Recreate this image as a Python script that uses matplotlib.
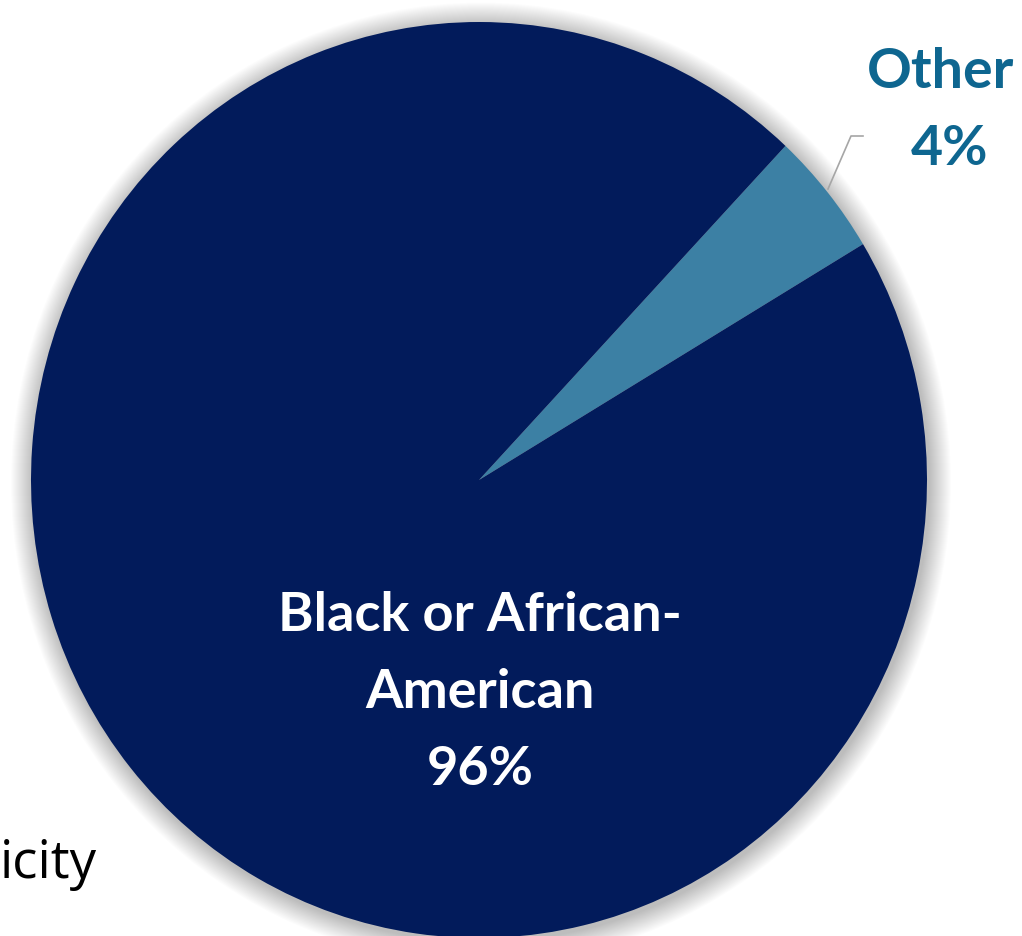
import matplotlib
matplotlib.use("Agg")
import matplotlib.pyplot as plt
from matplotlib.patches import Ellipse

# Data
categories = ["Other", "Black or African-\nAmerican"]
values = [4.4, 95.6]
shown_pct = ["4%", "96%"]
colors = ["#3C80A4", "#021B5B"]

W, H = 1022, 937
fig = plt.figure(figsize=(W / 100, H / 100), dpi=100)
ax = fig.add_axes([0, 0, 1, 1])

# slight vertical stretch like the reference (rx 448 px, ry 458 px)
sy = 448 / 458
ax.set_xlim(0, W)
ax.set_ylim(0, H * sy)
ax.axis("off")

cx, cy, r = 479, (H - 481) * sy, 448

# soft shadow
for i in range(22, 0, -1):
    ax.add_patch(Ellipse((cx + 2, cy - 3), 2 * (r + i), 2 * (r + i),
                         color="#000000", alpha=0.012, lw=0, zorder=0))

ax.pie(values, colors=colors, startangle=31.0, counterclock=True,
       center=(cx, cy), radius=r, frame=True,
       wedgeprops=dict(linewidth=0, zorder=1))
ax.set_xlim(0, W)
ax.set_ylim(0, H * sy)
ax.set_aspect("auto")
ax.axis("off")


def fx(x):
    return x / W


def fy(y):
    return 1 - y / H


font = "Lato"
blue = "#0E6690"
fig.text(fx(941), fy(88), categories[0], ha="center", va="baseline", fontsize=40,
         fontweight="bold", color=blue, family=font)
fig.text(fx(950), fy(165), shown_pct[0], ha="center", va="baseline", fontsize=40,
         fontweight="bold", color=blue, family=font)

# leader line
fig.add_artist(plt.Line2D([fx(828), fx(851), fx(863)], [fy(190), fy(137), fy(137)],
                          color="#A6A6A6", lw=1.2, transform=fig.transFigure))

# Main label
line1, line2 = categories[1].split("\n")
for txt, yb in [(line1, 631), (line2, 708), (shown_pct[1], 785)]:
    fig.text(fx(480), fy(yb), txt, ha="center", va="baseline", fontsize=39,
             fontweight="bold", color="white", family=font)

# Partially visible title (only this part is visible in the reference)
fig.text(fx(0), fy(878), "icity", ha="left", va="baseline", fontsize=38,
         color="black", family="Open Sans")

fig.savefig("out.png", dpi=100)
